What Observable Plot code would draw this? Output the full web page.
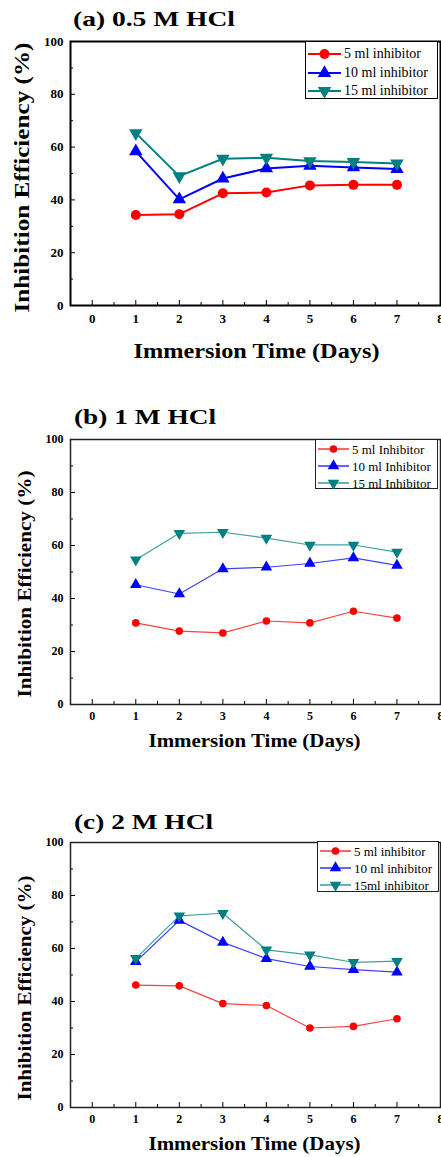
<!DOCTYPE html>
<html><head><meta charset="utf-8">
<script src="https://cdn.jsdelivr.net/npm/d3@7"></script>
<script src="https://cdn.jsdelivr.net/npm/@observablehq/plot@0.6"></script>
<style>
html,body{margin:0;padding:0;background:#fff;overflow:hidden;width:441px;height:1157px;}
#root{position:relative;width:441px;height:1157px;overflow:hidden;font-family:"Liberation Serif","Times New Roman",serif;color:#000;}
.panel{position:absolute;left:0;width:464px;}
.panel svg{max-width:none !important;display:block;}
.title{position:absolute;font-weight:bold;line-height:1;white-space:nowrap;transform-origin:0 0;}
.legend{position:absolute;border:1.5px solid #000;background:#fff;box-sizing:border-box;}
.legend .row{position:absolute;left:2px;display:flex;align-items:center;white-space:nowrap;line-height:1;}
.legend .row svg{display:block;margin-right:3px;}
</style></head><body><div id="root"></div>
<script>
const days = [1, 2, 3, 4, 5, 6, 7];
// (a) 0.5 M HCl
const a5 = [34.3, 34.6, 42.5, 42.8, 45.5, 45.7, 45.7];
const a10 = [58.4, 40.2, 48.1, 51.9, 52.9, 52.3, 51.7];
const a15 = [65.3, 49.0, 55.6, 56.0, 54.7, 54.4, 53.8];
// (b) 1 M HCl
const b5 = [30.8, 27.7, 27.0, 31.5, 30.8, 35.2, 32.6];
const b10 = [45.2, 41.7, 51.2, 51.8, 53.2, 55.3, 52.5];
const b15 = [54.6, 64.6, 65.0, 62.8, 60.2, 60.2, 57.5];
// (c) 2 M HCl
const c5 = [46.2, 45.9, 39.2, 38.5, 30.0, 30.6, 33.5];
const c10 = [55.0, 70.6, 62.3, 56.2, 53.2, 52.0, 51.1];
const c15 = [56.3, 72.3, 73.3, 59.5, 57.6, 54.8, 55.2];

const xTicks = [0, 1, 2, 3, 4, 5, 6, 7, 8];
const xMinorTicks = [0.5, 1.5, 2.5, 3.5, 4.5, 5.5, 6.5, 7.5];
const yTicks = [0, 20, 40, 60, 80, 100];
const yMinorTicks = [10, 30, 50, 70, 90];

const titles = ["(a) 0.5 M HCl", "(b) 1 M HCl", "(c) 2 M HCl"];
const legendA = ["5 ml inhibitor", "10 ml inhibitor", "15 ml inhibitor"];
const legendB = ["5 ml Inhibitor", "10 ml Inhibitor", "15 ml Inhibitor"];
const legendC = ["5 ml inhibitor", "10 ml inhibitor", "15ml inhibitor"];
const xLabel = "Immersion Time (Days)";
const yLabel = "Inhibition Efficiency (%)";
const seriesColors = ["#ff0000", "#0000ff", "#008080"];

const SQ3 = Math.sqrt(3);
const downTriangle = {
  draw(ctx, size) {
    const y = Math.sqrt(size / (SQ3 * 3));
    ctx.moveTo(0, 2 * y);
    ctx.lineTo(-SQ3 * y, -y);
    ctx.lineTo(SQ3 * y, -y);
    ctx.closePath();
  }
};
const symbols = ["circle", "triangle", downTriangle];

const root = document.getElementById("root");

function makePanel(cfg) {
  const W = 464, ml = 70, mr = 24;
  const fw = W - ml - mr, fh = cfg.frameH;
  const H = cfg.mt + fh + cfg.mb;
  const marks = [];
  cfg.series.forEach((vals, si) => {
    const rows = days.map((d, i) => ({day: d, value: vals[i]}));
    marks.push(Plot.line(rows, {x: "day", y: "value", stroke: seriesColors[si], strokeWidth: cfg.lineW, strokeOpacity: cfg.lineOpacity}));
  });
  cfg.series.forEach((vals, si) => {
    const rows = days.map((d, i) => ({day: d, value: vals[i]}));
    marks.push(Plot.dot(rows, {x: "day", y: "value", fill: seriesColors[si], stroke: "none", symbol: symbols[si], r: si === 0 ? cfg.rC : cfg.rT}));
  });
  const svg = Plot.plot({
    width: W, height: H,
    marginLeft: ml, marginRight: mr, marginTop: cfg.mt, marginBottom: cfg.mb,
    x: {domain: [-0.5, 8]},
    y: {domain: [0, 100]},
    style: {fontFamily: "'Liberation Serif', 'Times New Roman', serif", color: "#000", background: "transparent", overflow: "visible", maxWidth: "none"},
    marks: [
      Plot.tickX(xTicks, {x: d => d, insetTop: fh - 5, stroke: "#000", strokeWidth: 1}),
      Plot.tickX(xMinorTicks, {x: d => d, insetTop: fh - 3, stroke: "#000", strokeWidth: 1}),
      Plot.tickY(yTicks, {y: d => d, insetRight: fw - 5, stroke: "#000", strokeWidth: 1}),
      Plot.tickY(yMinorTicks, {y: d => d, insetRight: fw - 3, stroke: "#000", strokeWidth: 1}),
      Plot.axisX(xTicks, {tickSize: 0, tickPadding: cfg.xPad, fontSize: cfg.tickFs, fontWeight: "bold", label: null, tickFormat: d => String(d)}),
      Plot.axisY(yTicks, {tickSize: 0, tickPadding: 7, fontSize: cfg.tickFs, fontWeight: "bold", label: null, tickFormat: d => String(d)}),
      ...marks,
      Plot.frame({stroke: cfg.frameColor, strokeWidth: cfg.frameW}),
      Plot.text([xLabel], {text: d => d, frameAnchor: "bottom", textAnchor: "middle", lineAnchor: "middle", dx: cfg.xLabelDx, dy: cfg.xLabelDy, fontSize: cfg.xLabelFs, fontWeight: "bold"}),
      Plot.text([yLabel], {text: d => d, frameAnchor: "left", textAnchor: "middle", lineAnchor: "middle", rotate: -90, dx: cfg.yLabelDx, dy: cfg.yLabelDy, fontSize: cfg.yLabelFs, fontWeight: "bold"})
    ]
  });
  svg.style.maxWidth = "none";
  // stretch axis titles horizontally like the reference typesetting
  svg.querySelectorAll("text").forEach(el => {
    if (el.textContent === xLabel) { el.setAttribute("textLength", cfg.xLabelLen); el.setAttribute("lengthAdjust", "spacingAndGlyphs"); }
    if (el.textContent === yLabel) { el.setAttribute("textLength", cfg.yLabelLen); el.setAttribute("lengthAdjust", "spacingAndGlyphs"); }
  });
  const div = document.createElement("div");
  div.className = "panel";
  div.style.top = cfg.top + "px";
  div.appendChild(svg);
  root.appendChild(div);

  const t = document.createElement("div");
  t.className = "title";
  t.textContent = cfg.title;
  t.style.fontSize = cfg.titleFs + "px";
  t.style.left = cfg.titleLeft + "px";
  t.style.top = (cfg.titleBaseline - 0.8375 * cfg.titleFs) + "px";
  root.appendChild(t);
  const natural = t.getBoundingClientRect().width;
  if (natural > 0) t.style.transform = `scaleX(${cfg.titleWidth / natural})`;

  const L = cfg.legend;
  const lg = document.createElement("div");
  lg.className = "legend";
  Object.assign(lg.style, {left: L.left + "px", top: L.top + "px", width: L.width + "px", height: L.height + "px", borderColor: L.border});
  cfg.legendLabels.forEach((lab, si) => {
    const row = document.createElement("div");
    row.className = "row";
    row.style.top = (L.rowY[si] - L.top - 8) + "px";
    row.style.height = "16px";
    row.style.fontSize = L.fs + "px";
    const ns = "http://www.w3.org/2000/svg";
    const s = document.createElementNS(ns, "svg");
    s.setAttribute("width", L.sw); s.setAttribute("height", 16);
    const ln = document.createElementNS(ns, "line");
    ln.setAttribute("x1", 0); ln.setAttribute("x2", L.sw); ln.setAttribute("y1", 8); ln.setAttribute("y2", 8);
    ln.setAttribute("stroke", seriesColors[si]); ln.setAttribute("stroke-width", cfg.lineW);
    s.appendChild(ln);
    const r = si === 0 ? cfg.rC : cfg.rT;
    const p = document.createElementNS(ns, "path");
    const path = d3.path();
    const sym = si === 0 ? d3.symbolCircle : si === 1 ? d3.symbolTriangle : downTriangle;
    sym.draw(path, Math.PI * r * r);
    p.setAttribute("d", path.toString());
    p.setAttribute("transform", `translate(${L.sw / 2},8)`);
    p.setAttribute("fill", seriesColors[si]);
    s.appendChild(p);
    row.appendChild(s);
    const sp = document.createElement("span");
    sp.textContent = lab;
    row.appendChild(sp);
    lg.appendChild(row);
  });
  root.appendChild(lg);
}

makePanel({
  top: 0, mt: 41, frameH: 264, mb: 60, series: [a5, a10, a15],
  lineW: 2, lineOpacity: 1, rC: 5, rT: 5, frameW: 2, frameColor: "#000",
  tickFs: 13, xPad: 8,
  xLabelFs: 21, xLabelLen: 246, xLabelDx: 1, xLabelDy: 46,
  yLabelFs: 21, yLabelLen: 270, yLabelDx: -48, yLabelDy: 4,
  title: titles[0], titleFs: 21, titleLeft: 73, titleBaseline: 27, titleWidth: 162,
  legendLabels: legendA,
  legend: {left: 305, top: 41, width: 133, height: 58, fs: 14, rowY: [53, 72, 90], sw: 33, border: "#000"}
});
makePanel({
  top: 390, mt: 49, frameH: 265, mb: 60, series: [b5, b10, b15],
  lineW: 1.2, lineOpacity: 0.75, rC: 3.8, rT: 4.3, frameW: 1.5, frameColor: "#222",
  tickFs: 12, xPad: 7,
  xLabelFs: 19, xLabelLen: 212, xLabelDx: -1, xLabelDy: 36,
  yLabelFs: 19, yLabelLen: 227, yLabelDx: -46, yLabelDy: 12,
  title: titles[1], titleFs: 20, titleLeft: 74, titleBaseline: 424, titleWidth: 142,
  legendLabels: legendB,
  legend: {left: 315, top: 439, width: 123, height: 50, fs: 13, rowY: [448, 465, 482], sw: 31, border: "#222"}
});
makePanel({
  top: 790, mt: 52, frameH: 265, mb: 50, series: [c5, c10, c15],
  lineW: 1.2, lineOpacity: 0.75, rC: 3.8, rT: 4.3, frameW: 1.5, frameColor: "#222",
  tickFs: 12, xPad: 7,
  xLabelFs: 19, xLabelLen: 212, xLabelDx: -1, xLabelDy: 36,
  yLabelFs: 19, yLabelLen: 225, yLabelDx: -46, yLabelDy: 13,
  title: titles[2], titleFs: 20, titleLeft: 74, titleBaseline: 829, titleWidth: 139,
  legendLabels: legendC,
  legend: {left: 317, top: 841, width: 122, height: 51, fs: 13, rowY: [850, 867, 884], sw: 31, border: "#222"}
});
</script></body></html>
